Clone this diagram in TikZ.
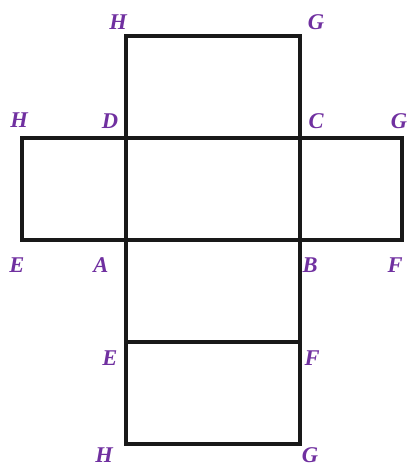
\documentclass[tikz,border=0pt]{standalone}
\usepackage{fontspec}
\setmainfont{Liberation Serif}
\definecolor{cLabel}{RGB}{112,48,160}

\begin{document}
\begin{tikzpicture}[
  x=0.025cm,y=-0.025cm,
  edge/.style={line width=2.7pt,line cap=rect,black!90},
  lbl/.style={font=\fontsize{16}{19}\selectfont\bfseries\itshape,text=cLabel,inner sep=0pt},
]
\useasboundingbox (0,0) rectangle (410,466);

% ------------------------------------------------------------------ corners
\coordinate (tH) at (126,36);  \coordinate (tG) at (300,36);
\coordinate (lH) at (22,138);  \coordinate (D)  at (126,138);
\coordinate (C)  at (300,138); \coordinate (rG) at (402,138);
\coordinate (lE) at (22,240);  \coordinate (A)  at (126,240);
\coordinate (B)  at (300,240); \coordinate (rF) at (402,240);
\coordinate (bE) at (126,342); \coordinate (bF) at (300,342);
\coordinate (bH) at (126,444); \coordinate (bG) at (300,444);

% ------------------------------------------------------------------- faces
\draw[edge] (D) -- (tH) -- (tG) -- (C);
\draw[edge] (lH) -- (rG) -- (rF) -- (lE) -- cycle;
\draw[edge] (D) -- (bH) -- (bG) -- (C);
\draw[edge] (bE) -- (bF);

% ------------------------------------------------------------------ labels
\node[lbl] (ltH) at (118,22)  {H};
\node[lbl] (ltG) at (316,22)  {G};
\node[lbl] (llH) at (19,120)  {H};
\node[lbl] (lD)  at (110,121) {D};
\node[lbl] (lC)  at (316,121) {C};
\node[lbl] (lrG) at (399,121) {G};
\node[lbl] (llE) at (17,265)  {E};
\node[lbl] (lA)  at (101,265) {A};
\node[lbl] (lB)  at (310,265) {B};
\node[lbl] (lrF) at (395,265) {F};
\node[lbl] (lbE) at (110,358) {E};
\node[lbl] (lbF) at (312,358) {F};
\node[lbl] (lbH) at (104,455) {H};
\node[lbl] (lbG) at (310,455) {G};

\end{tikzpicture}
\end{document}
